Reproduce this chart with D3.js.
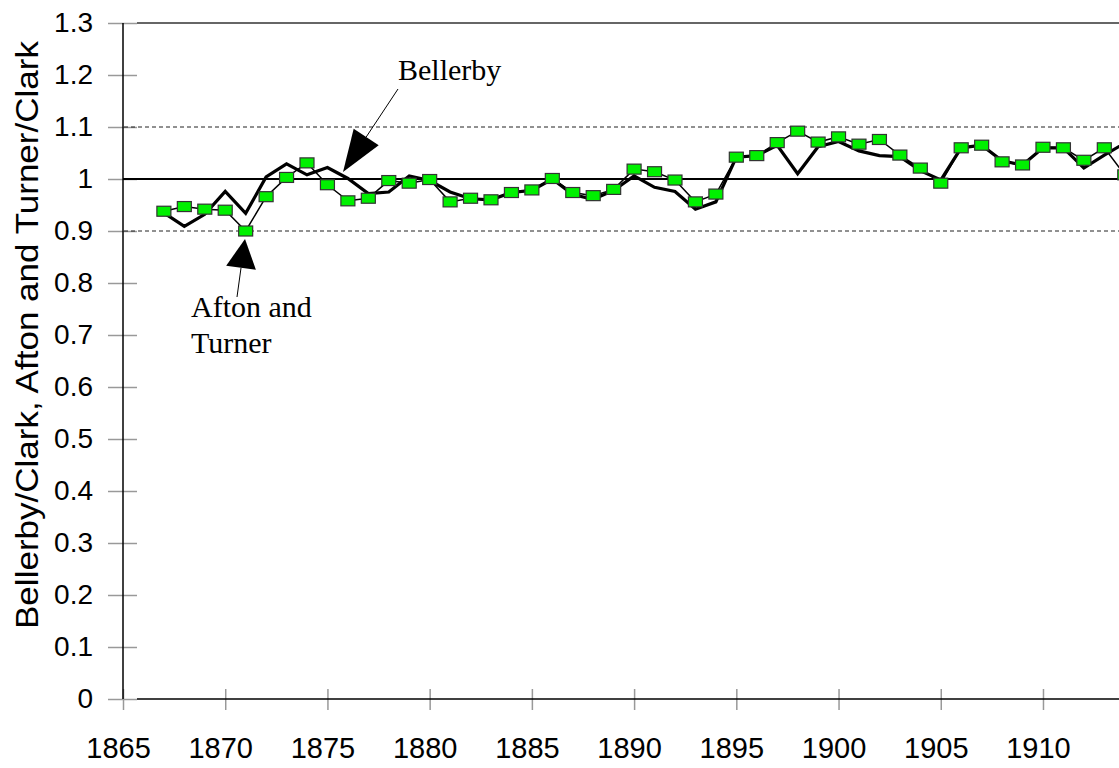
<!DOCTYPE html>
<html>
<head>
<meta charset="utf-8">
<script src="https://cdn.jsdelivr.net/npm/d3@7"></script>
<style>
  html, body { margin: 0; padding: 0; background: #fff; overflow: hidden; }
  svg { display: block; }
</style>
</head>
<body>
<div id="container"></div>
<script>
const years = [1867, 1868, 1869, 1870, 1871, 1872, 1873, 1874, 1875, 1876,
  1877, 1878, 1879, 1880, 1881, 1882, 1883, 1884, 1885, 1886,
  1887, 1888, 1889, 1890, 1891, 1892, 1893, 1894, 1895, 1896,
  1897, 1898, 1899, 1900, 1901, 1902, 1903, 1904, 1905, 1906,
  1907, 1908, 1909, 1910, 1911, 1912, 1913, 1914];

// Afton and Turner / Clark (thin line with green squares)
const afton = [0.938, 0.947, 0.942, 0.940, 0.900, 0.966, 1.003, 1.031, 0.989, 0.958,
  0.963, 0.997, 0.992, 0.999, 0.956, 0.963, 0.960, 0.974, 0.979, 1.001,
  0.974, 0.968, 0.980, 1.019, 1.014, 0.998, 0.956, 0.971, 1.042, 1.045,
  1.070, 1.092, 1.071, 1.081, 1.067, 1.076, 1.046, 1.021, 0.992, 1.060,
  1.065, 1.033, 1.027, 1.061, 1.060, 1.036, 1.060, 1.008];

// Bellerby / Clark (thick line)
const bellerby = [0.935, 0.909, 0.932, 0.976, 0.934, 1.004, 1.029, 1.008, 1.022, 1.001,
  0.972, 0.975, 1.006, 0.997, 0.975, 0.962, 0.960, 0.974, 0.978, 1.000,
  0.970, 0.961, 0.978, 1.006, 0.984, 0.976, 0.942, 0.956, 1.042, 1.045,
  1.065, 1.010, 1.062, 1.072, 1.054, 1.045, 1.043, 1.016, 0.998, 1.060,
  1.065, 1.035, 1.027, 1.060, 1.060, 1.021, 1.046, 1.069];

const xTicks = [1865, 1870, 1875, 1880, 1885, 1890, 1895, 1900, 1905, 1910];
const yTicks = [0, 0.1, 0.2, 0.3, 0.4, 0.5, 0.6, 0.7, 0.8, 0.9, 1, 1.1, 1.2, 1.3];
const refLines = [0.9, 1.1];

const W = 1119, H = 768;
const margin = {left: 123, top: 23, bottom: 699};

const svg = d3.select("#container")
  .append("svg")
  .attr("width", W)
  .attr("height", H);

const x = d3.scaleLinear().domain([1865, 1915]).range([margin.left, margin.left + 50 * 20.444]);
const y = d3.scaleLinear().domain([0, 1.3]).range([margin.bottom, margin.top]);

const sans = "'Liberation Sans', Arial, sans-serif";
const serif = "'Liberation Serif', 'Times New Roman', serif";

// y axis
const yAxis = svg.append("g")
  .attr("transform", "translate(" + margin.left + ",0)")
  .call(d3.axisLeft(y).tickValues(yTicks).tickFormat(d3.format("~g")).tickSize(15).tickPadding(15));
yAxis.select(".domain").remove();
yAxis.selectAll(".tick line").attr("stroke", "#999").attr("stroke-width", 1.5).attr("x2", -15).attr("x1", 14);
yAxis.selectAll(".tick text")
  .attr("font-family", sans).attr("font-size", 28).attr("fill", "#000");

// x axis
const xAxis = svg.append("g")
  .attr("transform", "translate(0," + margin.bottom + ")")
  .call(d3.axisBottom(x).tickValues(xTicks).tickFormat(d3.format("d")).tickSize(11).tickPadding(27));
xAxis.select(".domain").remove();
xAxis.selectAll(".tick line").attr("stroke", "#999").attr("stroke-width", 1.5).attr("y1", -10).attr("y2", 11);
xAxis.selectAll(".tick text")
  .attr("font-family", sans).attr("font-size", 29).attr("fill", "#000").attr("dx", -5);

// frame
svg.append("line").attr("x1", margin.left).attr("x2", margin.left)
  .attr("y1", margin.top).attr("y2", margin.bottom)
  .attr("stroke", "#000").attr("stroke-width", 1.5);
svg.append("line").attr("x1", margin.left + 14).attr("x2", W).attr("y1", y(1.3)).attr("y2", y(1.3))
  .attr("stroke", "#333").attr("stroke-width", 1.5);
svg.append("line").attr("x1", margin.left + 14).attr("x2", W).attr("y1", y(0)).attr("y2", y(0))
  .attr("stroke", "#000").attr("stroke-width", 1.5);

// reference lines
svg.selectAll(".ref")
  .data(refLines)
  .enter()
  .append("line")
  .attr("class", "ref")
  .attr("x1", margin.left + 1).attr("x2", W)
  .attr("y1", d => y(d)).attr("y2", d => y(d))
  .attr("stroke", "#222").attr("stroke-width", 1)
  .attr("stroke-dasharray", "4,3");
svg.append("line")
  .attr("x1", margin.left).attr("x2", W)
  .attr("y1", y(1)).attr("y2", y(1))
  .attr("stroke", "#000").attr("stroke-width", 2);

// y title
svg.append("text")
  .attr("transform", "translate(38,335) rotate(-90)")
  .attr("text-anchor", "middle")
  .attr("font-family", sans).attr("font-size", 31)
  .attr("textLength", 588).attr("lengthAdjust", "spacingAndGlyphs")
  .text("Bellerby/Clark, Afton and Turner/Clark");

const line = d3.line().x(d => x(d[0])).y(d => y(d[1]));

svg.append("path")
  .datum(years.map((yr, i) => [yr, afton[i]]))
  .attr("d", line)
  .attr("fill", "none").attr("stroke", "#000").attr("stroke-width", 1.5);

svg.append("path")
  .datum(years.map((yr, i) => [yr, bellerby[i]]))
  .attr("d", line)
  .attr("fill", "none").attr("stroke", "#000").attr("stroke-width", 3.2)
  .attr("stroke-linejoin", "miter");

svg.selectAll(".mark")
  .data(years.map((yr, i) => [yr, afton[i]]))
  .enter()
  .append("rect")
  .attr("class", "mark")
  .attr("x", d => x(d[0]) - 7)
  .attr("y", d => y(d[1]) - 5)
  .attr("width", 14)
  .attr("height", 10)
  .attr("fill", "#00f000")
  .attr("stroke", "#333")
  .attr("stroke-width", 1.2);

// annotations
function arrow(x1, y1, tipX, tipY, base, half) {
  const dx = tipX - x1, dy = tipY - y1;
  const len = Math.sqrt(dx * dx + dy * dy);
  const ux = dx / len, uy = dy / len;
  const bx = tipX - ux * base, by = tipY - uy * base;
  svg.append("line")
    .attr("x1", x1).attr("y1", y1).attr("x2", bx).attr("y2", by)
    .attr("stroke", "#000").attr("stroke-width", 1);
  svg.append("path")
    .attr("d", "M" + tipX + "," + tipY +
      "L" + (bx - uy * half) + "," + (by + ux * half) +
      "L" + (bx + uy * half) + "," + (by - ux * half) + "Z")
    .attr("fill", "#000");
}

arrow(398, 89, 343, 172, 42, 15);
arrow(237, 297, 245, 239, 29, 15);

svg.append("text")
  .attr("x", 398).attr("y", 80)
  .attr("font-family", serif).attr("font-size", 30)
  .text("Bellerby");

const at = svg.append("text")
  .attr("font-family", serif).attr("font-size", 30);
at.append("tspan").attr("x", 191).attr("y", 317).text("Afton and");
at.append("tspan").attr("x", 191).attr("y", 353).text("Turner");
</script>
</body>
</html>
